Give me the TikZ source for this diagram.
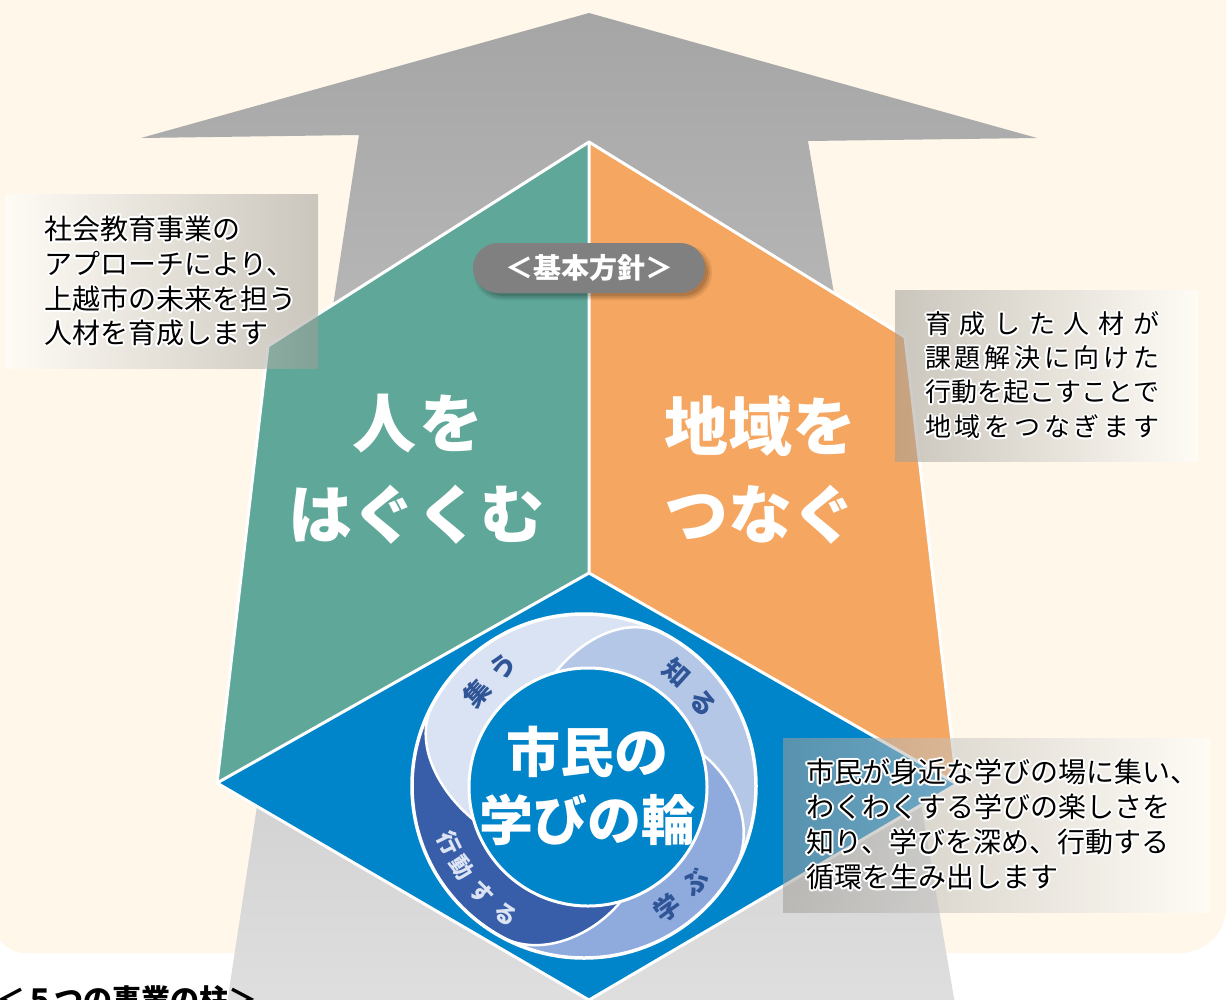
\documentclass[tikz,border=0pt]{standalone}
\usepackage{fontspec}
\newfontfamily\jp{Noto Sans CJK JP}
\usetikzlibrary{calc}
\definecolor{cream}{HTML}{FFF8EA}
\definecolor{arrowtop}{HTML}{A5A5A5}
\definecolor{arrowbot}{HTML}{DFDFDF}
\definecolor{hexteal}{HTML}{5FA798}
\definecolor{hexorange}{HTML}{F5A660}
\definecolor{hexblue}{HTML}{0084CA}
\definecolor{bandA}{HTML}{DAE3F3}
\definecolor{bandB}{HTML}{B4C7E7}
\definecolor{bandC}{HTML}{8FAADC}
\definecolor{bandD}{HTML}{385EAA}
\definecolor{bandtext}{HTML}{2F5597}
\definecolor{bandlight}{HTML}{DCE4F4}
\definecolor{boxgray}{HTML}{A09E98}
\definecolor{pillgray}{HTML}{808080}

\newcommand\ringband[3]{%
  \fill[#1] ($(Oi)+(#2:119)$) .. controls ($(Oi)+(#2:119)+({#2+55}:45)$) and ($(Oo)+({#2+45}:172)+({#2-45}:45)$) .. ($(Oo)+({#2+45}:172)$) arc[start angle={#2+45}, end angle={#2+#3}, radius=172] -- (Oo) -- cycle;
  \draw[white, line width=2.5] ($(Oi)+(#2:119)$) .. controls ($(Oi)+(#2:119)+({#2+55}:45)$) and ($(Oo)+({#2+45}:172)+({#2-45}:45)$) .. ($(Oo)+({#2+45}:172)$);
}
\newcommand\halotext[4]{%
  \foreach \hx in {0,30,...,330}{\node[boxtxt, text=white, font={\jp\fontsize{#3}{#3}\selectfont}] at ($(#2)+(\hx:1.9)$) {#4};}
  \node[boxtxt, font={\jp\fontsize{#3}{#3}\selectfont}] (#1) at (#2) {#4};
}

\begin{document}
\begin{tikzpicture}[x=1pt,y=-1pt,
  boxtxt/.style={anchor=west, inner sep=0, text=black},
  bigtxt/.style={inner sep=0, text=white, font={\jp\bfseries\fontsize{64}{64}\selectfont}},
  midtxt/.style={inner sep=0, text=white, font={\jp\bfseries\fontsize{54}{54}\selectfont}},
  bandtxt/.style={inner sep=0, text=bandtext, font={\jp\bfseries\fontsize{26}{26}\selectfont}},
  bandtxtl/.style={inner sep=0, text=bandlight, font={\jp\bfseries\fontsize{23}{23}\selectfont}},
  hexedge/.style={white, line width=3, line join=round}
]
\useasboundingbox (0,0) rectangle (1226,999);
\clip (0,0) rectangle (1226,999);
\fill[white] (0,0) rectangle (1226,999);
% cream panel
\fill[cream] (-5,-30) -- (1226,-30) -- (1226,907) arc[start angle=0,end angle=90,radius=46] -- (25,953) arc[start angle=90,end angle=180,radius=30] -- cycle;

% big arrow
\coordinate (tip) at (589,13);
\coordinate (lb) at (141,138);
\coordinate (ls) at (359,135);
\coordinate (lsb) at (226,1010);
\coordinate (rsb) at (956,1010);
\coordinate (rs) at (808,141);
\coordinate (rb) at (1037,138);
\shade[top color=arrowtop, bottom color=arrowbot] (tip) -- (rb) -- (rs) -- (rsb) -- (lsb) -- (ls) -- (lb) -- cycle;

% hexagon
\coordinate (A) at (589,142);
\coordinate (UL) at (268,346);
\coordinate (LL) at (217,783);
\coordinate (B) at (589,1000);
\coordinate (LR) at (957,784);
\coordinate (UR) at (905,337);
\coordinate (C) at (589,573);
\fill[hexteal] (A) -- (UL) -- (LL) -- (C) -- cycle;
\fill[hexorange] (A) -- (C) -- (LR) -- (UR) -- cycle;
\fill[hexblue] (C) -- (LL) -- (B) -- (LR) -- cycle;
\draw[hexedge] (A) -- (UL) -- (LL) -- (B) -- (LR) -- (UR) -- cycle;
\draw[hexedge] (A) -- (C) (LL) -- (C) -- (LR);

% ring
\coordinate (Oo) at (584,786);
\coordinate (Oi) at (588,787);
\begin{scope}
  \clip (Oo) circle[radius=172];
  \fill[bandC] (Oo) circle[radius=172];
  \ringband{bandD}{74}{150}
  \ringband{bandA}{164}{150}
  \ringband{bandB}{254}{150}
  \ringband{bandC}{344}{150}
  \ringband{bandD}{74}{88}
\end{scope}
\draw[white, line width=3.5] (Oo) circle[radius=172];
\filldraw[fill=hexblue, draw=white, line width=3] (Oi) circle[radius=119];

% band labels
\node[bandtxt, rotate=48] (t1) at (477,693) {集};
\node[bandtxt, rotate=40] (t2) at (503,667) {う};
\node[bandtxt, rotate=-42] (t3) at (677,673) {知};
\node[bandtxt, rotate=-52] (t4) at (703,703) {る};
\node[bandtxt, rotate=36] (t5) at (667,908) {学};
\node[bandtxt, rotate=48] (t6) at (695,882) {ぶ};
\node[bandtxtl, rotate=-64] (t7) at (449,843) {行};
\node[bandtxtl, rotate=-57] (t8) at (462,867) {動};
\node[bandtxtl, rotate=-46] (t9) at (482,893) {す};
\node[bandtxtl, rotate=-35] (t10) at (506,914) {る};

% center text
\node[midtxt] (c1) at (587,752) {市民の};
\node[midtxt] (c2) at (587,820) {学びの輪};

% main labels
\node[bigtxt] (m1) at (418,424) {人\kern3pt を};
\node[bigtxt] (m2) at (416,515) {はぐくむ};
\node[bigtxt] (m3) at (760,426) {地域を};
\node[bigtxt] (m4) at (760,515) {つなぐ};

% pill with soft shadow
\fill[black, opacity=0.08, rounded corners=27] (474,245) rectangle (712,300);
\fill[black, opacity=0.10, rounded corners=26] (476,247) rectangle (710,298);
\fill[black, opacity=0.12, rounded corners=25] (478,249) rectangle (708,296);
\fill[pillgray, rounded corners=25] (473,243) rectangle (705,293);
\node[inner sep=0, text=white, font={\jp\bfseries\fontsize{28}{28}\selectfont}] (pill) at (589,268) {＜基本方針＞};

% text boxes
\shade[left color=white, right color=boxgray, fill opacity=0.55] (5,194) rectangle (318,368);
\shade[left color=boxgray, right color=white, fill opacity=0.55] (895,290) rectangle (1198,461);
\shade[left color=boxgray, right color=white, fill opacity=0.55] (783,738) rectangle (1210,912);

\halotext{l1}{44,229}{28}{社会教育事業の}
\halotext{l2}{44,264}{28}{アプローチにより、}
\halotext{l3}{44,299}{28}{上越市の未来を担う}
\halotext{l4}{44,333}{28}{人材を育成します}

\halotext{r1}{925,324}{26}{\hbox to 234pt{育\hfill 成\hfill し\hfill た\hfill 人\hfill 材\hfill が}}
\halotext{r2}{925,358}{26}{\hbox to 234pt{課\hfill 題\hfill 解\hfill 決\hfill に\hfill 向\hfill け\hfill た}}
\halotext{r3}{925,392}{26}{\hbox to 234pt{行\hfill 動\hfill を\hfill 起\hfill こ\hfill す\hfill こ\hfill と\hfill で}}
\halotext{r4}{925,427}{26}{\hbox to 234pt{地\hfill 域\hfill を\hfill つ\hfill な\hfill ぎ\hfill ま\hfill す}}

\halotext{b1}{806,772}{28}{市民が身近な学びの場に集い、}
\halotext{b2}{806,807}{28}{わくわくする学びの楽しさを}
\halotext{b3}{806,842}{28}{知り、学びを深め、行動する}
\halotext{b4}{806,877}{28}{循環を生み出します}

% bottom caption
\node[anchor=west, inner sep=0, font={\jp\bfseries\fontsize{29}{29}\selectfont}] (cap) at (-4,999) {＜５つの事業の柱＞};
\end{tikzpicture}
\end{document}
